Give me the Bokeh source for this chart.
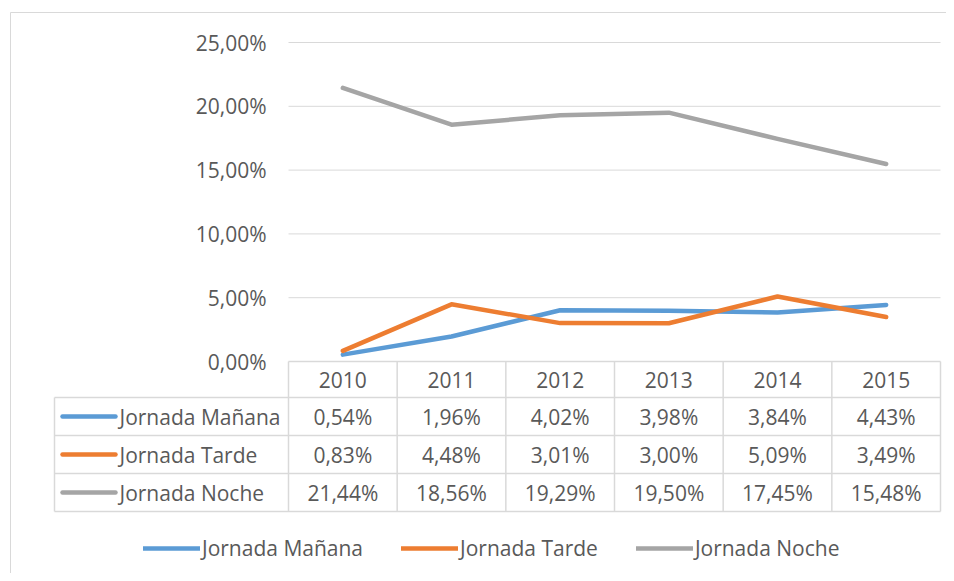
from bokeh.plotting import figure
from bokeh.models import Range1d, Legend, LegendItem
from bokeh.core.properties import value
from bokeh.embed import file_html
from bokeh.resources import INLINE

# ---- data ----
years = ["2010", "2011", "2012", "2013", "2014", "2015"]
series_names = ["Jornada Mañana", "Jornada Tarde", "Jornada Noche"]
manana = [0.54, 1.96, 4.02, 3.98, 3.84, 4.43]
tarde = [0.83, 4.48, 3.01, 3.00, 5.09, 3.49]
noche = [21.44, 18.56, 19.29, 19.50, 17.45, 15.48]
y_ticks = [0, 5, 10, 15, 20, 25]
y_tick_labels = ["0,00%", "5,00%", "10,00%", "15,00%", "20,00%", "25,00%"]
colors = ["#5B9BD5", "#ED7D31", "#A5A5A5"]
series = [manana, tarde, noche]

# ---- layout (screen pixels) ----
W, H = 946, 573
OFF = 0                    # canvas origin in screenshot pixels
PL, PR = 288, 940          # plot area left/right
PY0, PY25 = 361, 42        # y of 0% and 25%
ux = (PR - PL) / len(years)
uy = (PY0 - PY25) / 25.0


def X(px):
    return (px - PL) / ux


def Y(py):
    return (PY0 - py) / uy


FONT = value("Open Sans")
FS = "21px"
TXT = "#595959"
GRID = "#D9D9D9"

p = figure(width=W, height=H, output_backend="svg", toolbar_location=None,
           x_axis_type=None, y_axis_type=None,
           x_range=Range1d(X(OFF), X(OFF + W)), y_range=Range1d(Y(OFF + H), Y(OFF)),
           min_border=0, outline_line_color=None)
p.xgrid.visible = False
p.ygrid.visible = False

# outer chart border
p.line([X(10), X(10), X(980)], [Y(620), Y(12), Y(12)], line_color=GRID, line_width=1)

# gridlines
gt = [t for t in y_ticks if t > 0]
p.segment(x0=[X(PL)] * len(gt), x1=[X(PR)] * len(gt), y0=gt, y1=gt,
          line_color=GRID, line_width=1)

# y tick labels
p.text(x=[X(266)] * len(y_ticks), y=y_ticks, text=y_tick_labels,
       text_align="right", text_baseline="middle",
       text_font=FONT, text_font_size=FS, text_color=TXT)

# ---- data table ----
row_edges = [361, 397, 435, 473, 511]
TL = 54
hx0 = [X(PL)] + [X(TL)] * 4
hx1 = [X(PR)] * 5
p.segment(x0=hx0, x1=hx1, y0=[Y(r) for r in row_edges], y1=[Y(r) for r in row_edges],
          line_color=GRID, line_width=1.5)
vx = [X(TL)] + list(range(len(years) + 1))
vy0 = [Y(397)] + [Y(361)] * (len(years) + 1)
p.segment(x0=vx, x1=vx, y0=vy0, y1=[Y(511)] * len(vx), line_color=GRID, line_width=1.5)

centers = [i + 0.5 for i in range(len(years))]
row_c = [(row_edges[k] + row_edges[k + 1]) / 2 for k in range(4)]

tx, ty, tt = [], [], []
for i, yr in enumerate(years):
    tx.append(centers[i]); ty.append(Y(row_c[0])); tt.append(yr)
for k, vals in enumerate(series):
    for i, v in enumerate(vals):
        tx.append(centers[i]); ty.append(Y(row_c[k + 1]))
        tt.append(f"{v:.2f}".replace(".", ",") + "%")
p.text(x=tx, y=ty, text=tt, text_align="center", text_baseline="middle",
       text_font=FONT, text_font_size=FS, text_color=TXT)

# row keys in table
for k, name in enumerate(series_names):
    yy = Y(row_c[k + 1])
    p.segment(x0=[X(62)], x1=[X(115)], y0=[yy], y1=[yy], line_color=colors[k],
              line_width=4.5, line_cap="round")
p.text(x=[X(119)] * 3, y=[Y(c) for c in row_c[1:]], text=series_names,
       text_align="left", text_baseline="middle",
       text_font=FONT, text_font_size=FS, text_color=TXT)

# ---- series lines ----
renderers = []
for k, vals in enumerate(series):
    r = p.line(centers, vals, line_color=colors[k], line_width=4.5,
               line_cap="round", line_join="round")
    renderers.append(r)

legend = Legend(items=[LegendItem(label=n, renderers=[r]) for n, r in zip(series_names, renderers)],
                orientation="horizontal", location=(143 - OFF, (OFF + H) - 552 - 10),
                glyph_width=57, glyph_height=20, label_standoff=2, spacing=38,
                padding=0, margin=0, border_line_color=None, background_fill_alpha=0,
                label_text_font="Open Sans", label_text_font_size=FS,
                label_text_color=TXT, label_height=20)
p.add_layout(legend)

open("out.html", "w").write(file_html(p, INLINE))
